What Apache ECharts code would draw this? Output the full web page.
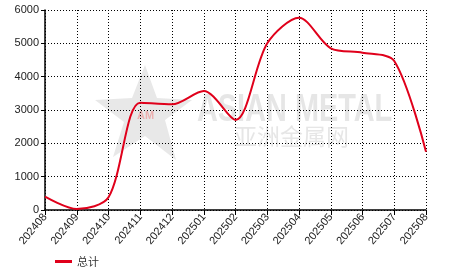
<!DOCTYPE html>
<html><head><meta charset="utf-8">
<script src="https://cdn.jsdelivr.net/npm/echarts@6/dist/echarts.min.js"></script>
<style>html,body{margin:0;padding:0;background:#fff}#c{width:466px;height:272px}</style>
</head><body><div id="c"></div>
<script>
const categories = ['202408','202409','202410','202411','202412','202501','202502','202503','202504','202505','202506','202507','202508'];
const totalValues = [400, 30, 380, 3220, 3170, 3570, 2700, 5000, 5770, 4850, 4720, 4470, 1750];
const seriesName = '总计';
const yMin = 0, yMax = 6000, yStep = 1000;

const chart = echarts.init(document.getElementById('c'));
const font = 'Liberation Sans, Arial, sans-serif';
chart.setOption({
  animation: false,
  graphic: [
    {type:'polygon', shape:{points:[[145,65],[157,98],[192,100],[165,120],[176,160],[145,136],[113,157],[124,122],[95,100],[132,98]]}, style:{fill:'rgba(190,190,190,0.35)'}, z:-1},
    {type:'text', x: 137, y: 110, style:{text:'AM', font:'bold 11px Liberation Sans, Arial', fill:'rgba(240,120,120,0.5)'}, z:-1},
    {type:'text', x: 197, y: 92, scaleX: 0.76, style:{text:'ASIAN METAL', font:'bold 38px Liberation Sans, Arial', fill:'rgba(205,205,205,0.5)'}, z:-1},
    {type:'text', x: 234, y: 125, style:{text:'亚洲金属网', font:'23px Noto Sans CJK SC', fill:'rgba(205,205,205,0.5)'}, z:-1}
  ],
  grid: {left: 45, right: 40, top: 10, bottom: 62, show: false},
  legend: {
    left: 50, top: 251, itemWidth: 17, itemHeight: 3, itemGap: 6,
    icon: 'rect',
    textStyle: {fontFamily: 'Noto Sans CJK SC', fontSize: 11, color: '#333'},
    data: [seriesName]
  },
  xAxis: {
    type: 'category', data: categories, boundaryGap: false,
    axisLine: {lineStyle: {color: '#000', width: 1.5}},
    axisTick: {show: true, length: 5, lineStyle: {color: '#000'}},
    axisLabel: {rotate: 50, fontFamily: font, fontSize: 11, color: '#222', margin: 5, interval: 0},
    splitLine: {show: true, lineStyle: {color: '#000', type: [1,2], width: 1}}
  },
  yAxis: {
    type: 'value', min: yMin, max: yMax, interval: yStep,
    axisLine: {show: true, lineStyle: {color: '#000', width: 1.5}},
    axisTick: {show: true, length: 4, lineStyle: {color: '#000'}},
    axisLabel: {fontFamily: font, fontSize: 11, color: '#222', margin: 6, formatter: v => String(v)},
    splitLine: {show: true, lineStyle: {color: '#000', type: [1,2], width: 1}}
  },
  series: [{
    name: seriesName, type: 'line', data: totalValues, smooth: 0.3,
    showSymbol: false, symbol: 'none',
    lineStyle: {color: '#e0001b', width: 2},
    itemStyle: {color: '#e0001b'}
  }]
});
</script></body></html>
